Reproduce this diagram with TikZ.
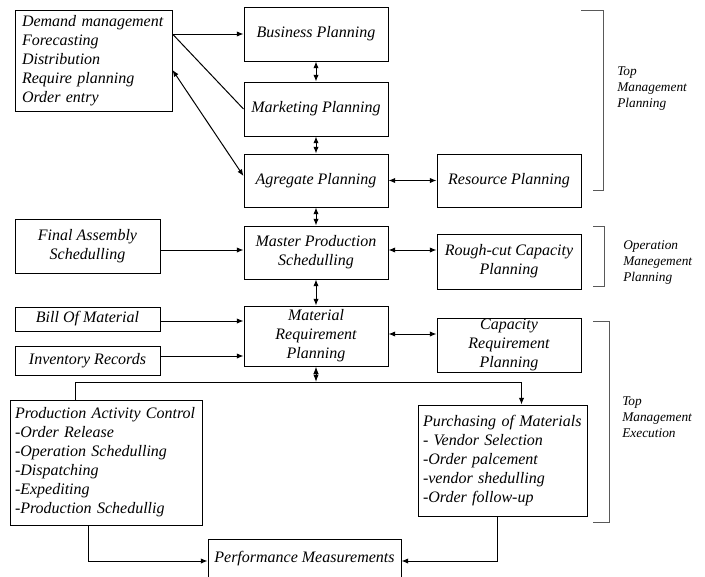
\documentclass[tikz,border=0pt]{standalone}
\usepackage{fontspec}
\setmainfont{Liberation Serif}
\usetikzlibrary{arrows.meta,calc}

\tikzset{
  box/.style={draw, line width=0.75pt, inner sep=0pt, align=center, font=\fontsize{12}{14.25}\selectfont\itshape},
  listbox/.style={box, align=left, inner xsep=3.75pt},
  arr/.style={line width=0.75pt, -{Latex[length=5pt,width=4pt]}},
  dbl/.style={line width=0.75pt, {Latex[length=5pt,width=4pt]}-{Latex[length=5pt,width=4pt]}},
  brace/.style={line width=0.75pt, draw=black!65},
  side/.style={anchor=north west, inner sep=0pt, align=left, font=\fontsize{10}{12}\selectfont\itshape},
}

\begin{document}
\begin{tikzpicture}[x=0.75pt,y=0.75pt,yscale=-1,xscale=1]
\useasboundingbox (0,0) rectangle (705,576);

% Left column
\node[listbox, text width=107.25pt, inner xsep=5.25pt, minimum height=75.75pt] (dem) at (93.5,60.5) {Demand management\\Forecasting\\Distribution\\Require planning\\Order entry};
\node[box, minimum width=108.75pt, minimum height=40.5pt] (fas) at (87.5,246) {Final Assembly\\Schedulling};
\node[box, minimum width=108.75pt, minimum height=18pt] (bom) at (87.5,319) {Bill Of Material};
\node[box, minimum width=108.75pt, minimum height=21.75pt] (inv) at (87.5,360.5) {Inventory Records};

% Middle column
\node[box, minimum width=108pt, minimum height=40.5pt] (bus) at (316,34) {Business Planning};
\node[box, minimum width=108pt, minimum height=40.5pt] (mkt) at (316,109) {Marketing Planning};
\node[box, minimum width=108pt, minimum height=39.75pt] (agg) at (316,180.5) {Agregate Planning};
\node[box, minimum width=108pt, minimum height=39.75pt] (mps) at (316,252.5) {Master Production\\Schedulling};
\node[box, minimum width=108pt, minimum height=45pt] (mrp) at (316,336) {Material\\Requirement\\Planning};

% Right column
\node[box, minimum width=108pt, minimum height=39.75pt] (res) at (509,180.5) {Resource Planning};
\node[box, minimum width=108pt, minimum height=41.25pt] (rcc) at (509,261.5) {Rough-cut Capacity\\Planning};
\node[box, minimum width=108pt, minimum height=40.5pt] (crp) at (509,345) {Capacity\\Requirement\\Planning};

% Execution
\node[listbox, text width=136.5pt, minimum height=93.75pt] (pac) at (106,462.5) {Production Activity Control\\-Order Release\\-Operation Schedulling\\-Dispatching\\-Expediting\\-Production Schedullig};
\node[listbox, text width=119.25pt, minimum height=83.25pt] (pur) at (502.5,460.5) {Purchasing of Materials\\- Vendor Selection\\-Order palcement\\-vendor shedulling\\-Order follow-up};
\node[box, minimum width=144.75pt, minimum height=30pt] (per) at (304.5,559) {Performance Measurements};

% Connectors
\draw[arr] (dem.east |- bus.west) -- (bus.west);
\draw[line width=0.75pt] (dem.east |- bus.west) -- (mkt.west);
\draw[dbl] ($(dem.east)+(0,9.5)$) -- ($(agg.west)+(0,-4.5)$);
\draw[dbl] (bus.south) -- (mkt.north);
\draw[dbl] (mkt.south) -- (agg.north);
\draw[dbl] (agg.south) -- (mps.north);
\draw[dbl] (mps.south) -- (mrp.north);
\draw[dbl] (agg.east) -- (res.west);
\draw[dbl] ($(mps.east)+(0,-2.5)$) -- ($(mps.east -| rcc.west)+(0,-2.5)$);
\draw[dbl] ($(mrp.east)+(0,-2)$) -- ($(mrp.east -| crp.west)+(0,-2)$);
\draw[arr] ($(fas.east)+(0,4)$) -- ($(fas.east -| mps.west)+(0,4)$);
\draw[arr] ($(bom.east)+(0,2)$) -- ($(bom.east -| mrp.west)+(0,2)$);
\draw[arr] ($(inv.east)+(0,-4.5)$) -- ($(inv.east -| mrp.west)+(0,-4.5)$);

% Split below MRP
\coordinate (fork) at (316,382);
\draw[line width=0.75pt, {Latex[length=5.5pt,width=4pt]}-{Latex[length=5.5pt,width=4pt]}] (mrp.south) -- (fork);
\draw[line width=0.75pt] ($(pac.north west)+(66,0)$) |- (fork);
\draw[arr] (fork) -| ($(pur.north west)+(104,0)$);
\draw[arr] ($(pac.south)+(-18,0)$) |- ($(per.west)+(0,2)$);
\draw[arr] ($(pur.south)+(-5.5,0)$) |- ($(per.east)+(0,2)$);

% Brackets
\draw[brace] (581,10) -- (603,10) -- (603,190) -- (593,190);
\draw[brace] (593,226) -- (604,226) -- (604,286) -- (593,286);
\draw[brace] (593,321) -- (609,321) -- (609,522) -- (593,522);

% Text Node
\node[side] (tmp) at (617,66) {Top\\Management\\Planning};
% Text Node
\node[side] (omp) at (623,240) {Operation\\Manegement\\Planning};
% Text Node
\node[side] (tme) at (622,396) {Top\\Management\\Execution};

\end{tikzpicture}
\end{document}
